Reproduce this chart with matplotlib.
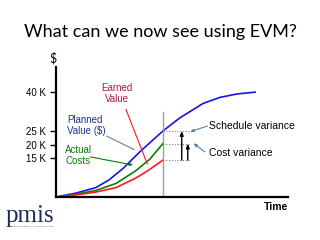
import matplotlib
matplotlib.use("Agg")
import matplotlib.pyplot as plt

# ---- data (time units, values in K$) ----
pv_t = [0, 8.6, 17.2, 22.8, 28.9, 36.2, 46.1, 53.4, 63.4, 70.7, 78.0, 85.8]
pv_k = [0, 1.5, 3.6, 6.5, 10.9, 17.3, 25.2, 30.2, 35.7, 38.0, 39.3, 40.0]
ac_t = [0, 8.6, 17.2, 25.9, 34.5, 40.5, 46.1]
ac_k = [0, 1.1, 2.5, 5.2, 10.1, 14.5, 20.4]
ev_t = [0, 8.6, 17.2, 25.9, 34.5, 39.7, 46.1]
ev_k = [0, 0.8, 1.9, 3.6, 7.3, 10.1, 14.1]
status_time = 46.1
ytick_vals = [15, 20, 25, 40]
ytick_labels = ["15 K", "20 K", "25 K", "40 K"]

BLUE = "#1414e6"
GREEN = "#0a7a0a"
RED = "#ff1a1a"
NAVY = "#22338a"
CRIMSON = "#b0174a"
LEADER = "#5a7fa8"

fig = plt.figure(figsize=(3.2, 2.4), dpi=100)
fig.patch.set_facecolor("white")
ax = fig.add_axes([0.175, 0.179, 0.725, 0.542])
ax.set_xlim(0, 100)
ax.set_ylim(0, 49.6)

for s in ["top", "right"]:
    ax.spines[s].set_visible(False)
for s in ["left", "bottom"]:
    ax.spines[s].set_linewidth(1.6)
    ax.spines[s].set_color("black")

ax.set_xticks([])
ax.set_yticks(ytick_vals)
ax.set_yticklabels(ytick_labels, family="Liberation Sans", fontsize=7)
ax.tick_params(axis="y", length=4, width=1, pad=3)

ax.plot(pv_t, pv_k, color=BLUE, lw=1.2, solid_joinstyle="round")
ax.plot(ac_t, ac_k, color=GREEN, lw=1.2, solid_joinstyle="round")
ax.plot(ev_t, ev_k, color=RED, lw=1.2, solid_joinstyle="round")

# status date line
ax.plot([status_time, status_time], [0, 32.4], color="#a0a0a0", lw=1.0)

pv_now = pv_k[pv_t.index(status_time)]
ac_now = ac_k[-1]
ev_now = ev_k[-1]
for lvl in (pv_now, ac_now, ev_now):
    ax.plot([status_time, 57.8], [lvl, lvl], color="#808080", lw=0.8, ls=(0, (1, 1.5)))

arrow_kw = dict(arrowstyle="-|>,head_length=0.25,head_width=0.1", color="black", lw=1.0,
                shrinkA=0, shrinkB=0)
ax.annotate("", xy=(54.2, pv_now), xytext=(54.2, ev_now), arrowprops=arrow_kw)
ax.annotate("", xy=(56.8, ac_now), xytext=(56.8, ev_now), arrowprops=arrow_kw)

lead_kw = dict(arrowstyle="-|>,head_length=0.2,head_width=0.08", lw=0.8, shrinkA=0, shrinkB=0)
ax.annotate("", xy=(57.8, 24.9), xytext=(65.3, 27.1), arrowprops=dict(color=LEADER, **lead_kw))
ax.annotate("", xy=(59.2, 20.5), xytext=(64.2, 17.2), arrowprops=dict(color=LEADER, **lead_kw))
ax.annotate("", xy=(34.9, 17.6), xytext=(20.7, 23.7), arrowprops=dict(color="#6a7fa8", arrowstyle="-", lw=0.8))
ax.annotate("", xy=(33.3, 12.2), xytext=(14.7, 15.3), arrowprops=dict(color=GREEN, **lead_kw))
ax.annotate("", xy=(39.8, 11.6), xytext=(29.7, 34.4), arrowprops=dict(color=RED, arrowstyle="-", lw=0.8))

lab = dict(family="Liberation Sans", fontsize=7)
ax.text(26.3, 39.5, "Earned\nValue", color=CRIMSON, ha="center", va="center",
        linespacing=1.05, **lab)
ax.text(4.7, 27.3, "Planned\nValue ($)", color=NAVY, ha="left", va="center",
        linespacing=1.05, **lab)
ax.text(3.9, 15.9, "Actual\nCosts", color=GREEN, ha="left", va="center",
        linespacing=1.05, **lab)
ax.text(65.8, 27.1, "Schedule variance", color="black", ha="left", va="center",
        family="Liberation Sans", fontsize=7.5)
ax.text(65.8, 16.8, "Cost variance", color="black", ha="left", va="center",
        family="Liberation Sans", fontsize=7.5)

# figure texts
fig.text(0.5, 1 - 31.5 / 240, "What can we now see using EVM?", ha="center", va="center",
         family="Lato", fontsize=13, color="black")
fig.text(53 / 320, 1 - 58 / 240, "$", ha="center", va="center", family="Lato",
         fontsize=9, color="black")
fig.text(276 / 320, 1 - 207 / 240, "Time", ha="center", va="center",
         family="Liberation Sans", fontsize=7.5, fontweight="bold", color="black")
fig.text(6 / 320, 1 - 216 / 240, "pmis", ha="left", va="center", family="Liberation Serif",
         fontsize=18, color="#1f2d5c")
fig.text(12 / 320, 1 - 226 / 240, "project management  integrated solutions", ha="left",
         va="center", family="Liberation Sans", fontsize=1.6, color="#555a70")

fig.savefig("out.png", dpi=100, facecolor="white")
